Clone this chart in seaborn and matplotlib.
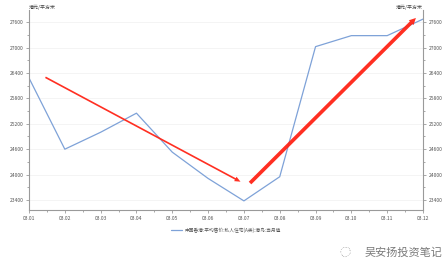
import matplotlib
matplotlib.use("Agg")
import matplotlib.pyplot as plt
from matplotlib.ticker import AutoMinorLocator
import seaborn as sns
import pandas as pd

dates = ["03.01", "03.02", "03.03", "03.04", "03.05", "03.06",
         "03.07", "03.08", "03.09", "03.10", "03.11", "03.12"]
prices = [26280, 24600, 25000, 25450, 24530, 23910,
          23380, 23950, 27020, 27280, 27280, 27670]
y_ticks = [23400, 24000, 24600, 25200, 25800, 26400, 27000, 27600]
series_name = "中国香港:平均售价:私人住宅(A类):港岛:当月值"
unit = "港元/平方米"
watermark = "吴安扬投资笔记"

sns.set_theme(style="white")
plt.rcParams["font.family"] = ["Noto Sans CJK SC", "DejaVu Sans"]

df = pd.DataFrame({"idx": range(len(dates)), "date": dates, "price": prices})

fig = plt.figure(figsize=(4.47, 2.63), dpi=100)
ax = fig.add_axes([29 / 447, 1 - 210 / 263, 394 / 447, 200 / 263])

line_color = "#7ea2d8"
sns.lineplot(data=df, x="idx", y="price", ax=ax, color=line_color,
             linewidth=0.9, label=series_name, legend=False)

ax.set_xlim(0, len(dates) - 1)
ax.set_ylim(23165, 27885)
ax.set_xticks(range(len(dates)))
ax.set_xticklabels(dates)
ax.xaxis.set_minor_locator(AutoMinorLocator(2))
ax.set_yticks(y_ticks)
ax.yaxis.set_minor_locator(AutoMinorLocator(2))
ax.set_xlabel("")
ax.set_ylabel("")

spine_c = "#9a9a9a"
ax.spines["top"].set_visible(False)
for s in ["left", "bottom", "right"]:
    ax.spines[s].set_color(spine_c)
    ax.spines[s].set_linewidth(0.8)

ax.tick_params(axis="both", which="both", colors=spine_c, labelcolor="#555555",
               labelsize=3.6, length=2.5, width=0.6, direction="out")
ax.tick_params(axis="both", which="minor", length=1.5)
ax.tick_params(axis="y", which="both", left=True, right=True,
               labelleft=True, labelright=True, pad=1.5)
ax.tick_params(axis="x", which="both", bottom=True, pad=2)

ax.grid(axis="y", which="major", color="#f2f2f2", linewidth=0.6)

ax.text(0.0, 1.0, unit, transform=ax.transAxes, fontsize=3.6, color="#444444",
        ha="left", va="bottom")
ax.text(1.0, 1.0, unit, transform=ax.transAxes, fontsize=3.6, color="#444444",
        ha="right", va="bottom")

handles, labels = ax.get_legend_handles_labels()
leg = ax.legend(handles, labels, loc="upper center", bbox_to_anchor=(0.5, -0.065),
                frameon=False, fontsize=3.4, handlelength=2.4, handletextpad=0.5)
for t in leg.get_texts():
    t.set_color("#555555")

red = "#ff2416"
ax.annotate("", xy=(0.543, 0.135), xytext=(0.0355, 0.67),
            xycoords="axes fraction", textcoords="axes fraction",
            arrowprops=dict(arrowstyle="simple,head_length=0.35,head_width=0.3,tail_width=0.1",
                            color=red, linewidth=0, alpha=0.95))
ax.annotate("", xy=(0.987, 0.97), xytext=(0.556, 0.125),
            xycoords="axes fraction", textcoords="axes fraction",
            arrowprops=dict(arrowstyle="simple,head_length=0.4,head_width=0.4,tail_width=0.22",
                            color=red, linewidth=0, alpha=0.95))

fig.text(345 / 447, 1 - 253 / 263, "◌", fontsize=8, color="#9a9a9a",
         ha="center", va="center")
fig.text(0.99, 1 - 253 / 263, watermark, fontsize=8, color="#7a7a7a",
         ha="right", va="center")

fig.savefig("out.png", dpi=100)
